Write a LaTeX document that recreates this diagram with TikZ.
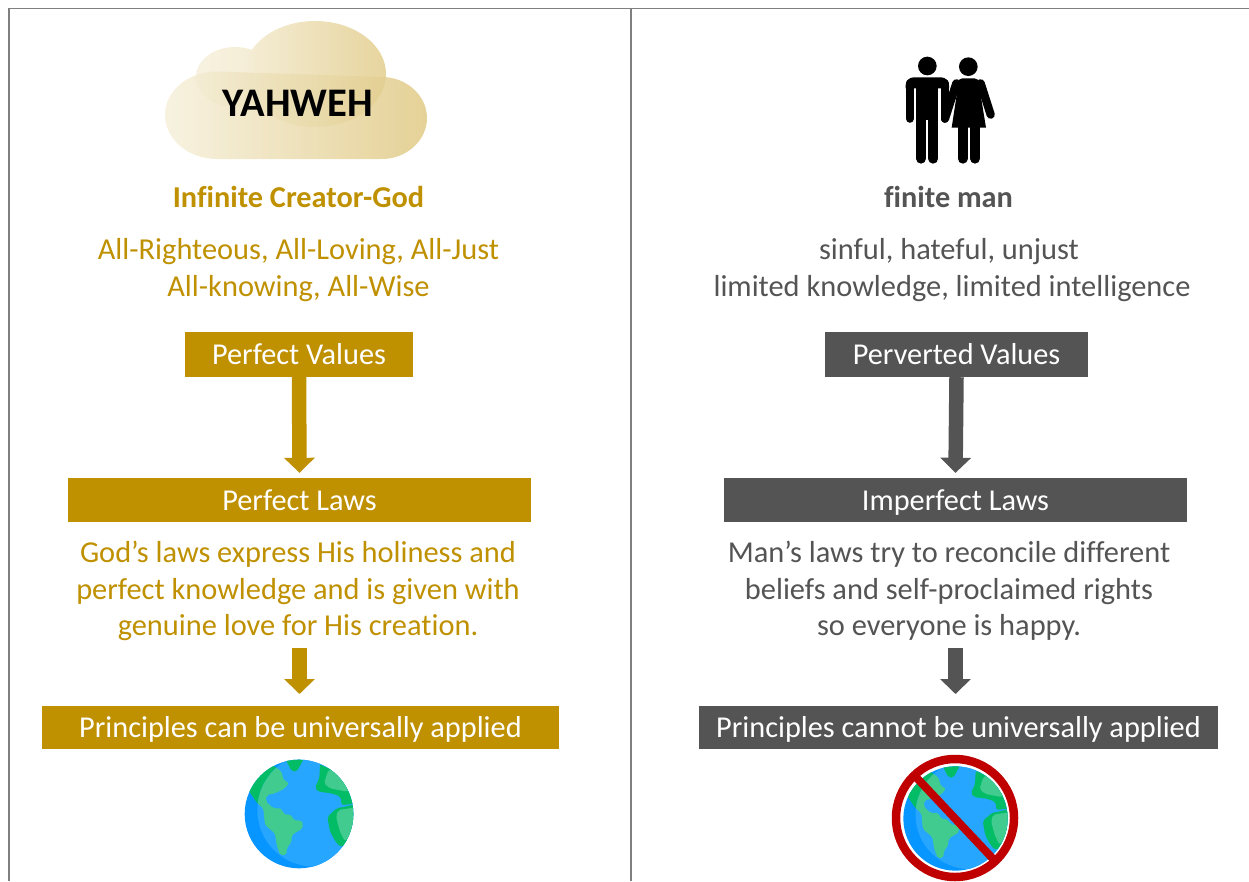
\documentclass[tikz,border=0pt]{standalone}
\usepackage{fontspec}
\setmainfont[Ligatures=NoCommon]{Carlito}
\usetikzlibrary{arrows.meta}
\definecolor{gold}{HTML}{BF9000}
\definecolor{slate}{HTML}{545454}
\definecolor{frameline}{HTML}{7F7F7F}
\definecolor{oceanL}{HTML}{27A6FF}
\definecolor{oceanD}{HTML}{0795FF}
\definecolor{landL}{HTML}{42CB8E}
\definecolor{landD}{HTML}{02BC66}
\definecolor{ban}{HTML}{C00000}
\tikzset{
  x=1pt,y=-1pt,
  labelbox/.style={draw=none,inner sep=0pt,text=white,font=\fontsize{30.3}{36}\selectfont,text height=24pt,text depth=4pt,align=center},
  goldbox/.style={labelbox,fill=gold},
  slatebox/.style={labelbox,fill=slate},
  bodytext/.style={inner sep=0pt,align=center,font=\fontsize{30.4}{36.6}\selectfont},
  headtext/.style={inner sep=0pt,align=center,font=\fontsize{30.3}{36}\selectfont\bfseries},
  flow/.style={line width=14.5pt,-{Triangle[width=30pt,length=15pt]}},
  frameedge/.style={draw=frameline,line width=1.2pt},
}
\newcommand{\americaland}{(165,65) -- (185,80) -- (190,105) -- (207,113) -- (195,130) -- (165,145) -- (140,150) -- (138,170) -- (160,190) -- (185,190) -- (190,207) -- (215,210) -- (220,225) -- (248,228) -- (248,250) -- (215,270) -- (215,290) -- (200,310) -- (200,329) -- (181,331) -- (170,300) -- (165,265) -- (135,240) -- (130,190) -- (112,175) -- (85,135) -- (50,100) -- (120,40) -- cycle}
\newcommand{\drawglobe}[3]{%
\begin{scope}[shift={(#1,#2)},x=#3pt,y=-#3pt,shift={(-237,-207)}]
  \begin{scope}
    \clip (237,207) circle[radius=163];
    \fill[oceanD] (237,207) circle[radius=170];
    \fill[landD,rounded corners=2pt] \americaland;
    \begin{scope}
      \clip (282,195) circle[radius=170];
      \fill[oceanL] (60,0) rectangle (460,400);
      \fill[landL,rounded corners=2pt] \americaland;
    \end{scope}
    \fill[landD,rounded corners=2pt] (195,40) -- (215,78) -- (230,80) -- (252,40) -- cycle;
    \fill[landD,rounded corners=2pt] (300,58) -- (325,70) -- (420,120) -- (420,175) -- (365,180) -- (362,155) -- (335,145) -- (295,140) -- (285,128) -- (298,100) -- cycle;
    \fill[landL,rounded corners=2pt] (325,75) -- (312,115) -- (330,130) -- (380,140) -- (420,120) -- (350,70) -- cycle;
    \fill[landD,rounded corners=2pt] (420,175) -- (350,190) -- (322,215) -- (330,260) -- (350,295) -- (365,307) -- (420,260) -- cycle;
    \fill[landL,rounded corners=2pt] (420,185) -- (355,195) -- (348,215) -- (360,260) -- (374,288) -- (420,250) -- cycle;
  \end{scope}
\end{scope}}
\begin{document}
\begin{tikzpicture}
\useasboundingbox (0,0) rectangle (1249,881);
% frame
\draw[frameedge] (9,881) -- (9,8.5) -- (1249,8.5);
\draw[frameedge] (631,8.5) -- (631,881);
% cloud
\shade[left color=gold!12,right color=gold!18] (235,77) ellipse[x radius=39,y radius=30];
\shade[left color=gold!16,right color=gold!38] (315,74) ellipse[x radius=71,y radius=53];
\begin{scope}[opacity=.85]
\shade[left color=gold!14,right color=gold!48]
  (217,71.5) .. controls (188,71.5) and (165,91) .. (165,115)
  .. controls (165,139) and (188,159) .. (217,159)
  -- (382,159)
  .. controls (407,159) and (427,140) .. (427,118)
  .. controls (427,96) and (407,77) .. (382,77)
  -- cycle;
\end{scope}
\node[inner sep=0pt,font=\fontsize{40.6}{44}\selectfont\bfseries,text=black] (yahweh) at (298,103) {YAHWEH};
% couple
\begin{scope}[shift={(860,40)},x=0.3333pt,y=-0.3333pt]
  \fill[black] (202,78) circle[radius=28];
  \fill[black] (325,80) circle[radius=28];
  \fill[black] (137,145) [rounded corners=8pt] -- (137,112) -- (267,112) [sharp corners] -- (267,145) -- cycle;
  \fill[black] (168,130) rectangle (235,240);
  \draw[black,line width=8.3pt,line cap=round] (149.5,130) -- (149.5,236);
  \draw[black,line width=8.3pt,line cap=round] (254.5,130) -- (254.5,236);
  \draw[black,line width=10pt,line cap=round] (183,230) -- (183,356);
  \draw[black,line width=10pt,line cap=round] (220,230) -- (220,356);
  \fill[black] (292,128) [rounded corners=5pt] -- (292,115) -- (358,115) [sharp corners] -- (360,128) -- (362,165) -- (378,263) -- (275,263) -- (290,165) -- cycle;
  \draw[black,line width=8.3pt,line cap=round] (362,130) -- (392,224);
  \draw[black,line width=8.3pt,line cap=round] (289,130) -- (255,236);
  \draw[black,line width=10pt,line cap=round] (308,255) -- (308,356);
  \draw[black,line width=10pt,line cap=round] (345,255) -- (345,356);
\end{scope}
% left column
\node[headtext,text=gold] (godtitle) at (298.5,197) {Infinite Creator-God};
\node[bodytext,text=gold] (godattr) at (298.5,270) {All-Righteous, All-Loving, All-Just\\All-knowing, All-Wise};
\node[goldbox,minimum width=228pt,minimum height=45pt] (perfectvalues) at (299,354.5) {Perfect Values};
\node[goldbox,minimum width=463pt,minimum height=44pt] (perfectlaws) at (299.5,500) {Perfect Laws};
\node[bodytext,text=gold] (godlaws) at (298,591) {God’s laws express His holiness and\\perfect knowledge and is given with\\genuine love for His creation.};
\node[goldbox,minimum width=517pt,minimum height=43pt] (godprinciples) at (300.5,727.5) {Principles can be universally applied};
\coordinate (godarrowstart) at (299.5,648);
\coordinate (godarrowend) at (299.5,694);
\draw[flow,draw=gold,color=gold] (perfectvalues.south) -- ([yshift=5pt]perfectlaws.north);
\draw[flow,draw=gold,color=gold] (godarrowstart) -- (godarrowend);
% right column
\node[headtext,text=slate] (mantitle) at (948.5,197) {finite man};
\node[bodytext,text=slate] (manattr) at (952,270) {sinful, hateful, unjust\kern6pt\\limited knowledge, limited intelligence};
\node[slatebox,minimum width=263pt,minimum height=45pt] (pervertedvalues) at (956.5,354.5) {Perverted Values};
\node[slatebox,minimum width=463pt,minimum height=44pt] (imperfectlaws) at (955.5,500) {Imperfect Laws};
\node[bodytext,text=slate] (manlaws) at (949,591) {Man’s laws try to reconcile different\\beliefs and self-proclaimed rights\\so everyone is happy.};
\node[slatebox,minimum width=519pt,minimum height=43pt] (manprinciples) at (958.5,727.5) {Principles cannot be universally applied};
\coordinate (manarrowstart) at (955.5,648);
\coordinate (manarrowend) at (955.5,694);
\draw[flow,draw=slate,color=slate] (pervertedvalues.south) -- ([yshift=5pt]imperfectlaws.north);
\draw[flow,draw=slate,color=slate] (manarrowstart) -- (manarrowend);
% globes
\drawglobe{299}{814}{0.3333}
\drawglobe{955.5}{818.5}{0.32}
\draw[ban,line width=8.5pt] (955,818) circle[radius=59];
\draw[ban,line width=8pt] (915,776) -- (996,862);
\end{tikzpicture}
\end{document}
